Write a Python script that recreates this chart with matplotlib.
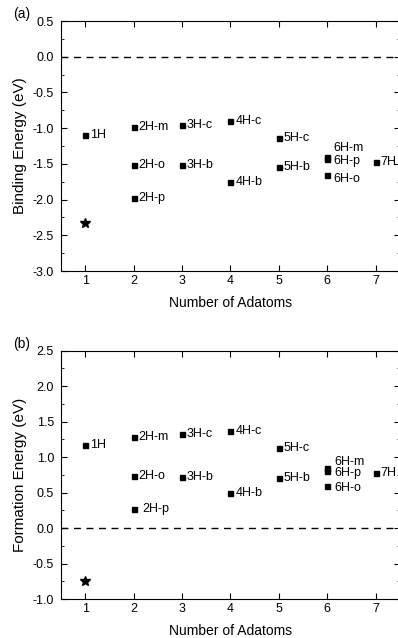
import numpy as np
import matplotlib.pyplot as plt
from matplotlib.ticker import MultipleLocator

plt.rcParams['font.family'] = ['Liberation Sans', 'DejaVu Sans']

# configurations: number of adatoms and names
n_atoms = [1, 2, 2, 2, 3, 3, 4, 4, 5, 5, 6, 6, 6, 7]
names = ['1H', '2H-m', '2H-o', '2H-p', '3H-c', '3H-b', '4H-c', '4H-b',
         '5H-c', '5H-b', '6H-m', '6H-p', '6H-o', '7H']

# (a) binding energy, eV
binding = [-1.09, -0.99, -1.51, -1.98, -0.95, -1.51, -0.90, -1.76,
           -1.14, -1.54, -1.40, -1.43, -1.65, -1.47]
# (b) formation energy, eV
formation = [1.17, 1.28, 0.74, 0.27, 1.33, 0.72, 1.37, 0.49,
             1.13, 0.70, 0.85, 0.80, 0.59, 0.78]

# star reference point
star_x = [1]
star_binding = [-2.33]
star_formation = [-0.74]

# label offsets in points (dx, dy)
offs_a = {'6H-m': (4, 6), '6H-p': (4, -1.5), '6H-o': (4, -3)}
offs_b = {'6H-m': (5, 4.5), '6H-p': (5, -1), '6H-o': (5, -1), '2H-p': (6.5, 0)}

fig = plt.figure(figsize=(3.98, 6.38), dpi=100)
ax1 = fig.add_axes([0.153, 0.5752, 0.852, 0.3918])
ax2 = fig.add_axes([0.153, 0.0611, 0.852, 0.3892])


def draw(ax, vals, star, offs, ylim, ylabel, tag):
    ax.axhline(0, color='k', lw=1.0, ls=(0, (5, 4)))
    ax.plot(n_atoms, vals, 's', color='k', ms=3.6, ls='none')
    ax.plot(star_x, star, '*', color='k', ms=7, ls='none')
    for x, y, nm in zip(n_atoms, vals, names):
        dx, dy = offs.get(nm, (3.5, 0))
        ax.annotate(nm, (x, y), xytext=(dx, dy), textcoords='offset points',
                    fontsize=9, va='center', ha='left', annotation_clip=False)
    ax.set_xlim(0.5, 7.5)
    ax.set_ylim(*ylim)
    ax.xaxis.set_major_locator(MultipleLocator(1))
    ax.yaxis.set_major_locator(MultipleLocator(0.5))
    ax.yaxis.set_minor_locator(MultipleLocator(0.25))
    ax.tick_params(which='both', direction='in', top=True, right=True,
                   labelsize=9)
    ax.tick_params(which='major', length=4)
    ax.tick_params(axis='x', which='major', pad=3)
    ax.tick_params(axis='y', which='major', pad=5)
    ax.tick_params(which='minor', length=2)
    ax.set_xlabel('Number of Adatoms', fontsize=10, labelpad=6)
    ax.set_ylabel(ylabel, fontsize=11, labelpad=4)
    ax.text(-0.09, 1.0, tag, transform=ax.transAxes, fontsize=10,
            ha='right', va='bottom')
    ax.yaxis.set_major_formatter(plt.FuncFormatter(lambda v, p: '%.1f' % v))


draw(ax1, binding, star_binding, offs_a, (-3.0, 0.5), 'Binding Energy (eV)', '(a)')
draw(ax2, formation, star_formation, offs_b, (-1.0, 2.5), 'Formation Energy (eV)', '(b)')

fig.savefig('out.png', dpi=100)
